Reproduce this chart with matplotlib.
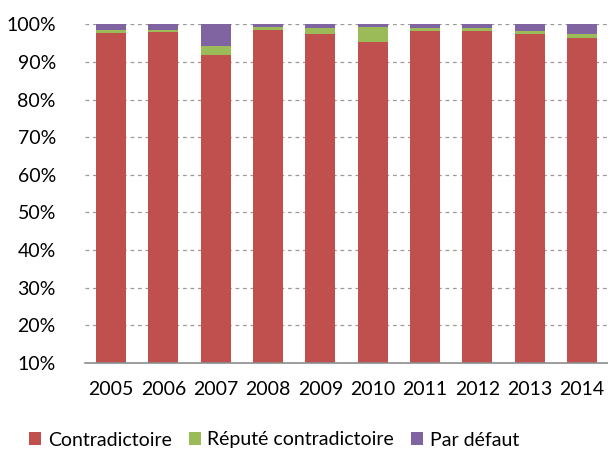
import matplotlib
matplotlib.use("Agg")
import matplotlib.pyplot as plt
from matplotlib.patches import Patch
from matplotlib.ticker import FuncFormatter

plt.rcParams['font.family'] = ['Lato', 'DejaVu Sans']

years = ['2005', '2006', '2007', '2008', '2009', '2010', '2011', '2012', '2013', '2014']
contradictoire = [97.6, 97.9, 91.9, 98.5, 97.4, 95.4, 98.3, 98.2, 97.4, 96.3]
repute = [0.8, 0.5, 2.2, 0.9, 1.5, 3.8, 0.6, 0.7, 0.7, 1.1]
defaut = [1.6, 1.6, 5.9, 0.6, 1.1, 0.8, 1.1, 1.1, 1.9, 2.6]
series_names = ['Contradictoire', 'Réputé contradictoire', 'Par défaut']
colors = ['#C0504D', '#9BBB59', '#8064A2']

fig = plt.figure(figsize=(6.08, 4.57), dpi=100)
ax = fig.add_axes([0.1398, 0.2063, 0.8602, 0.7405])

x = list(range(len(years)))
w = 0.575
bottom = [0.0] * len(years)
for vals, c in zip([contradictoire, repute, defaut], colors):
    ax.bar(x, vals, w, bottom=bottom, color=c, edgecolor='none', zorder=3)
    bottom = [b + v for b, v in zip(bottom, vals)]

ax.set_ylim(10, 100)
ax.set_xlim(-0.5, len(years) - 0.5)
ax.set_yticks(range(10, 101, 10))
ax.yaxis.set_major_formatter(FuncFormatter(lambda v, p: f"{int(v)}%"))
ax.set_xticks(x)
ax.set_xticklabels(years)
ax.tick_params(axis='both', length=0, labelsize=14, colors='black')
ax.tick_params(axis='y', pad=21)
ax.tick_params(axis='x', pad=13)

ax.yaxis.grid(True, linestyle=(0, (3, 3)), color='#9A9A9A', linewidth=0.9, zorder=0)
ax.set_axisbelow(True)
for s in ['top', 'right', 'left']:
    ax.spines[s].set_visible(False)
ax.spines['bottom'].set_color('#8C8C8C')
ax.spines['bottom'].set_linewidth(1.2)
ax.spines['bottom'].set_zorder(4)

handles = [Patch(facecolor=c, edgecolor='none') for c in colors]
fig.legend(handles, series_names, loc='center', bbox_to_anchor=(274 / 608, 1 - 440 / 457),
           ncol=3, frameon=False, fontsize=14, handlelength=0.62, handleheight=0.62,
           handletextpad=0.35, columnspacing=0.87)

fig.savefig('out.png', dpi=100)
